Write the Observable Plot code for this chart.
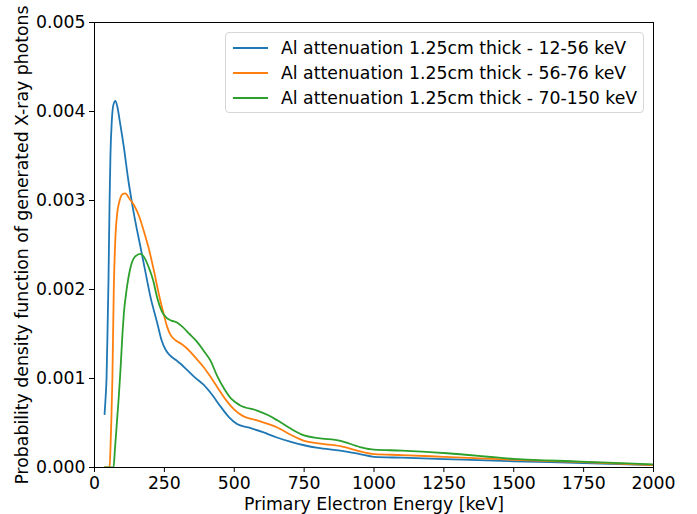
<!DOCTYPE html>
<html>
<head>
<meta charset="utf-8">
<script src="https://cdn.jsdelivr.net/npm/d3@7"></script>
<script src="https://cdn.jsdelivr.net/npm/@observablehq/plot@0.6"></script>
<style>
  html, body { margin: 0; padding: 0; background: #fff; }
  #wrap { position: relative; width: 697px; height: 514px; font-family: "DejaVu Sans", sans-serif; }
  #legend {
    position: absolute; left: 225px; top: 32px; width: 419px; height: 81px;
    border: 1px solid #d6d6d6; border-radius: 4px; background: rgba(255,255,255,0.8);
    box-sizing: border-box; font-size: 17.3px; color: #000;
  }
  .row { position: absolute; left: 0; height: 25px; display: flex; align-items: center; white-space: nowrap; }
  .sw { display: inline-block; width: 35px; height: 2px; margin-left: 7px; margin-right: 13px; }
</style>
</head>
<body>
<div id="wrap"><div id="legend"></div></div>
<script>
const seriesNames = [
  "Al attenuation 1.25cm thick - 12-56 keV",
  "Al attenuation 1.25cm thick - 56-76 keV",
  "Al attenuation 1.25cm thick - 70-150 keV"
];
const colors = ["#1f77b4", "#ff7f0e", "#2ca02c"];

const blueX = [36,40,43,47,50,54,57,62,68,75,82,90,105,120,141,165,182,200,224,240,255,270,290,310,330,360,390,420,450,480,510,550,600,650,700,750,800,880,950,1000,1100,1250,1500,1750,2000];
const blueY = [0.00060,0.00080,0.00100,0.00160,0.00210,0.00300,0.00350,0.00390,0.00408,0.00412,0.00405,0.00390,0.00360,0.00325,0.00285,0.00247,0.00220,0.00192,0.00163,0.00143,0.00132,0.00126,0.00121,0.00116,0.00110,0.00101,0.00093,0.00082,0.00069,0.00057,0.00049,0.00045,0.00040,0.00034,0.00029,0.00025,0.00022,0.00019,0.00015,0.00012,0.00011,0.000095,0.00007,0.00005,0.000026];

const orangeX = [36,54,57,60,64,69,75,81,90,100,110,125,141,160,176,195,212,230,248,260,272,290,310,330,360,390,415,440,470,500,530,582,620,654,700,750,800,880,950,1000,1100,1250,1500,1750,2000];
const orangeY = [0,0,0.00020,0.00050,0.00100,0.00200,0.00260,0.00285,0.00300,0.00307,0.00308,0.00302,0.00295,0.00282,0.00266,0.00245,0.00222,0.00195,0.00172,0.00158,0.00149,0.00143,0.00139,0.00134,0.00124,0.00113,0.00102,0.00090,0.00076,0.00065,0.00058,0.00053,0.00049,0.00045,0.00037,0.00030,0.00027,0.00024,0.00018,0.00015,0.00014,0.00012,0.000086,0.00006,0.000028];

const greenX = [36,68,73,80,87,93,100,105,115,129,145,165,180,194,210,224,240,258,275,295,315,340,365,391,415,440,465,490,520,582,620,654,700,750,800,880,950,1000,1100,1262,1500,1739,2000];
const greenY = [0,0,0.00020,0.00050,0.00080,0.00110,0.00150,0.00173,0.00200,0.00225,0.00237,0.00240,0.00235,0.00225,0.00210,0.00191,0.00176,0.00168,0.00165,0.00163,0.00158,0.00150,0.00142,0.00131,0.00120,0.00102,0.00088,0.00077,0.00070,0.00064,0.00059,0.00053,0.00044,0.00036,0.00033,0.00030,0.00023,0.00020,0.00019,0.00016,0.000097,0.000067,0.000034];

const xTicks = [0,250,500,750,1000,1250,1500,1750,2000];
const yTicks = [0,0.001,0.002,0.003,0.004,0.005];

const data = [
  ...blueX.map((x,i) => ({x, y: blueY[i], s: seriesNames[0]})),
  ...orangeX.map((x,i) => ({x, y: orangeY[i], s: seriesNames[1]})),
  ...greenX.map((x,i) => ({x, y: greenY[i], s: seriesNames[2]}))
];

const chart = Plot.plot({
  width: 697,
  height: 514,
  marginLeft: 94,
  marginRight: 44,
  marginTop: 22,
  marginBottom: 47,
  style: { fontFamily: "DejaVu Sans, sans-serif", fontSize: "17.3px", color: "#000", background: "#fff" },
  x: { domain: [0, 2000] },
  y: { domain: [0, 0.005] },
  color: { domain: seriesNames, range: colors },
  marks: [
    Plot.line(data, { x: "x", y: "y", stroke: "s", z: "s", strokeWidth: 1.8, curve: "monotone-x", clip: true }),
    Plot.frame({ stroke: "#000", strokeWidth: 1 }),
    Plot.axisX({ ticks: xTicks, tickSize: 5, tickPadding: 4, tickFormat: d => String(d),
      label: "Primary Electron Energy [keV]", labelAnchor: "center", labelArrow: "none", labelOffset: 42 }),
    Plot.axisY({ ticks: yTicks, tickSize: 5, tickPadding: 4, tickFormat: d3.format(".3f"),
      label: "Probability density function of generated X-ray photons", labelAnchor: "center", labelArrow: "none", labelOffset: 79 })
  ]
});
document.getElementById("wrap").prepend(chart);

const legend = document.getElementById("legend");
seriesNames.forEach((name, i) => {
  const row = document.createElement("div");
  row.className = "row";
  row.style.top = (2 + i * 25) + "px";
  const sw = document.createElement("span");
  sw.className = "sw";
  sw.style.backgroundColor = colors[i];
  const t = document.createElement("span");
  t.textContent = name;
  row.appendChild(sw);
  row.appendChild(t);
  legend.appendChild(row);
});
</script>
</body>
</html>
